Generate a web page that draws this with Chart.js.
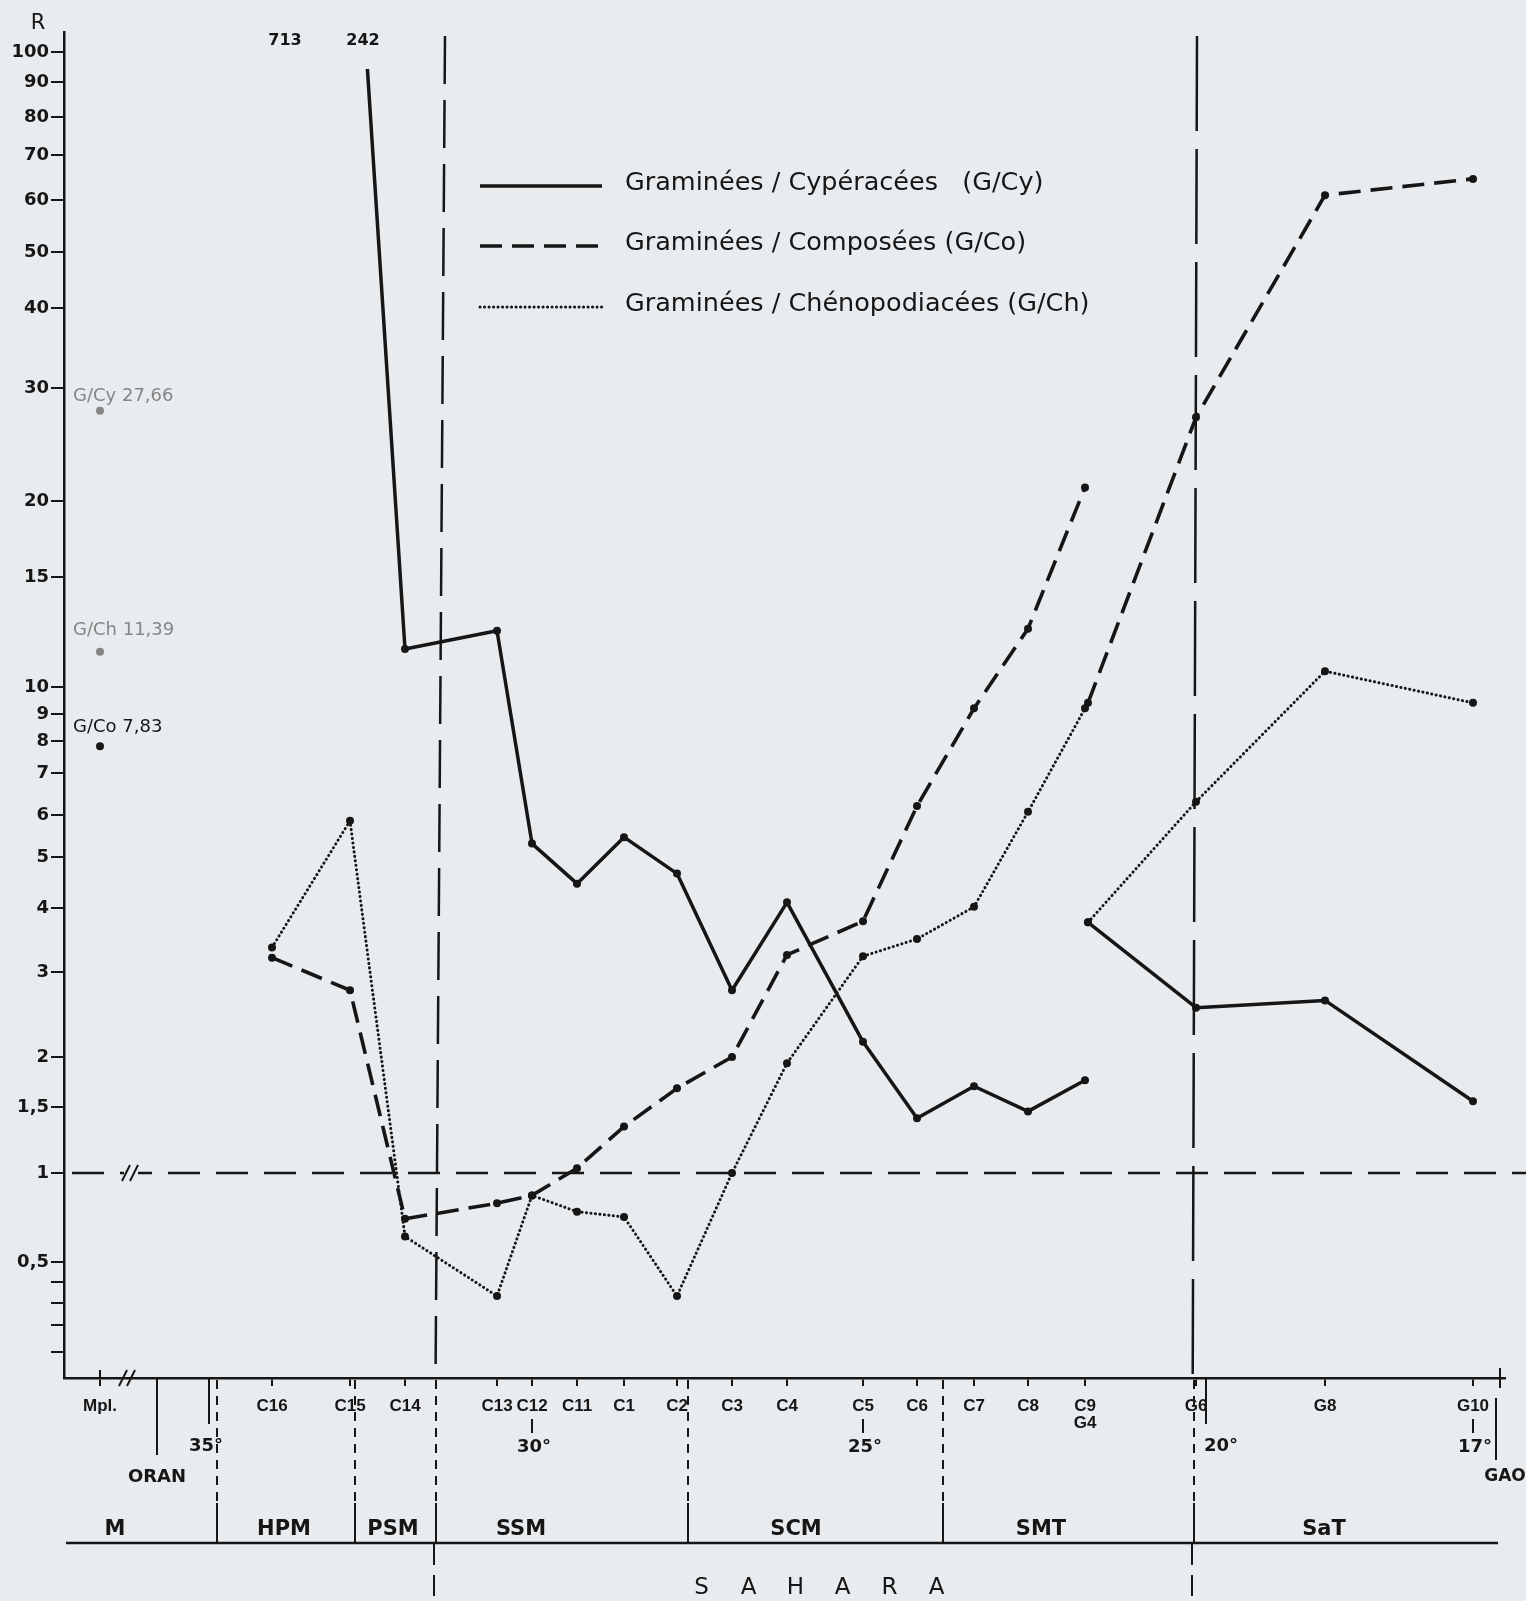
<!DOCTYPE html>
<html>
<head>
<meta charset="utf-8">
<title>Rapports polliniques - transect Sahara</title>
<script src="https://cdn.jsdelivr.net/npm/chart.js@4.4.1/dist/chart.umd.min.js"></script>
<style>
  html, body { margin: 0; padding: 0; background: #e9ecef; }
  canvas { display: block; }
</style>
</head>
<body>
<canvas id="grafico" width="1526" height="1601"></canvas>
<script>
const ink = '#161616';
const grey = '#858585';
const paper = '#e9ecef';
const FONT = '"DejaVu Sans", sans-serif';
const FONT_NARROW = '"Liberation Sans", Arial, sans-serif';

// stations along the transect, north -> south (C = Algeria, G = Mali)
const stations   = ['C16','C15','C14','C13','C12','C11','C1','C2','C3','C4','C5','C6','C7','C8','C9','G4','G6','G8','G10'];
const stationPos = [272, 350, 405, 497, 532, 577, 624, 677, 732, 787, 863, 917, 974, 1028, 1085, 1088, 1196, 1325, 1473];
const breakBefore = 'G4';   // the C and G series are not joined

// ratios R
const ratioGCy = [713, 242, 11.5, 12.3, 5.3, 4.45, 5.45, 4.65, 2.75, 4.1, 2.15, 1.4, 1.69, 1.46, 1.75, 3.75, 2.53, 2.62, 1.55];
const ratioGCo = [3.2, 2.75, 0.7, 0.79, 0.84, 1.03, 1.33, 1.67, 2.0, 3.24, 3.77, 6.2, 9.2, 12.4, 21, 9.4, 27, 61, 64.5];
const ratioGCh = [3.35, 5.85, 0.61, 0.33, 0.84, 0.74, 0.71, 0.33, 1.0, 1.93, 3.22, 3.48, 4.02, 6.07, 9.2, 3.75, 6.3, 10.6, 9.4];

// Montpellier reference values
const mplPos = 100;
const mplValues = [27.66, 11.39, 7.83];
const mplLabels = ['G/Cy 27,66', 'G/Ch 11,39', 'G/Co 7,83'];
const mplLabelDy = [-14, -21, -19];

const seriesNames = ['Graminées / Cypéracées   (G/Cy)', 'Graminées / Composées (G/Co)', 'Graminées / Chénopodiacées (G/Ch)'];

// y axis (hand drawn, not a true log scale)
const yTickValues = [100, 90, 80, 70, 60, 50, 40, 30, 20, 15, 10, 9, 8, 7, 6, 5, 4, 3, 2, 1.5, 1, 0.5, 0.4, 0.3, 0.2, 0.1];
const yTickLabels = ['100','90','80','70','60','50','40','30','20','15','10','9','8','7','6','5','4','3','2','1,5','1','0,5','','','',''];
const yKnotHeights = [1326, 1296, 1261, 1223, 1178, 1126, 1070, 990, 877, 801, 691, 664, 637, 605, 563, 521, 470, 406, 321, 271, 205, 116, 96, 75, 53, 26];
const yAxisLength = 1346;

// latitudes, vegetation zones
const latLabels = ['35°', '30°', '25°', '20°', '17°'];
const latPos    = [209, 532, 863, 1206, 1473];
const latLong   = [true, false, false, true, false];
const regions   = ['M', 'HPM', 'PSM', 'SSM', 'SCM', 'SMT', 'SaT'];
const regionMid = [115, 284, 393, 521, 796, 1041, 1324];
const regionBounds = [217, 355, 436, 688, 943, 1194];
const saharaTop    = [445, 1197];
const saharaBottom = [434, 1192];

function knotHeight(v) {
  const vals = yTickValues, hs = yKnotHeights, n = vals.length;
  if (v <= 0) return 0;
  let i = 0;
  if (v >= vals[0]) i = 0;
  else if (v <= vals[n - 1]) i = n - 2;
  else while (!(v <= vals[i] && v >= vals[i + 1])) i++;
  const t = Math.log(v / vals[i + 1]) / Math.log(vals[i] / vals[i + 1]);
  return hs[i + 1] + t * (hs[i] - hs[i + 1]);
}
function knotValue(h) {
  const vals = yTickValues, hs = yKnotHeights, n = vals.length;
  let i = 0;
  if (h >= hs[0]) i = 0;
  else if (h <= hs[n - 1]) i = n - 2;
  else while (!(h <= hs[i] && h >= hs[i + 1])) i++;
  const t = (h - hs[i + 1]) / (hs[i] - hs[i + 1]);
  return vals[i + 1] * Math.pow(vals[i] / vals[i + 1], t);
}

const Linear = Chart.LinearScale || Chart.registry.getScale('linear');
class KnotScale extends Linear {
  getPixelForValue(v) {
    if (v === null || v === undefined || isNaN(v)) return NaN;
    return this.bottom - knotHeight(v) / yAxisLength * (this.bottom - this.top);
  }
  getValueForPixel(p) {
    return knotValue((this.bottom - p) / (this.bottom - this.top) * yAxisLength);
  }
}
KnotScale.id = 'knot';
KnotScale.defaults = Linear.defaults;
Chart.register(KnotScale);

function points(values) {
  const pts = [];
  stations.forEach((s, i) => {
    if (s === breakBefore) pts.push({ x: stationPos[i], y: null });
    pts.push({ x: stationPos[i], y: values[i] });
  });
  return pts;
}

const axisTicks = [mplPos];
const axisTickText = ['Mpl.'];
stations.forEach((s, i) => {
  if (s === breakBefore) return;
  axisTicks.push(stationPos[i]);
  axisTickText.push(stations[i + 1] === breakBefore ? [s, breakBefore] : s);
});

const styleCy = { borderWidth: 3.5, borderDash: [], borderCapStyle: 'butt' };
const styleCo = { borderWidth: 3.6, borderDash: [22, 10], borderCapStyle: 'butt' };
const styleCh = { borderWidth: 3, borderDash: [0.1, 4.4], borderCapStyle: 'round' };

function seg(c, x1, y1, x2, y2, w, dash, color) {
  c.save();
  c.beginPath();
  c.lineWidth = w;
  c.strokeStyle = color || ink;
  c.setLineDash(dash || []);
  c.lineCap = (dash && dash[0] < 1) ? 'round' : 'butt';
  c.moveTo(x1, y1);
  c.lineTo(x2, y2);
  c.stroke();
  c.restore();
}
function txt(c, s, x, y, size, opts) {
  opts = opts || {};
  c.save();
  c.font = (opts.weight || 'normal') + ' ' + size + 'px ' + (opts.family || FONT);
  c.fillStyle = opts.color || ink;
  c.textAlign = opts.align || 'center';
  c.textBaseline = 'middle';
  c.fillText(s, x, y);
  c.restore();
}
function breakMark(c, x, y) {
  [-5, 3].forEach(dx => seg(c, x + dx - 4, y + 8, x + dx + 4, y - 8, 2));
}

const decor = {
  id: 'decor',
  beforeDraw(chart) {
    const c = chart.ctx;
    c.save();
    c.fillStyle = paper;
    c.fillRect(0, 0, chart.width, chart.height);
    c.restore();
  },
  beforeDatasetsDraw(chart) {
    const c = chart.ctx, x = chart.scales.x, y = chart.scales.y, a = chart.chartArea;
    // Sahara limits, slightly slanted like the scanned original
    saharaTop.forEach((t, i) => {
      const b = saharaBottom[i];
      const atAxis = t + (b - t) * (a.bottom - 36) / (1596 - 36);
      seg(c, x.getPixelForValue(t), 36, x.getPixelForValue(atAxis), a.bottom, 2.5, i ? [95, 18] : [48, 16]);
    });
    const y1 = y.getPixelForValue(1);
    seg(c, a.left + 8, y1, chart.width, y1, 2.5, [32, 16]);
    c.save();
    c.fillStyle = paper;
    c.fillRect(x.getPixelForValue(124), y1 - 3, 14, 6);
    c.restore();
    breakMark(c, x.getPixelForValue(131), y1);
  },
  afterDraw(chart) {
    const c = chart.ctx, x = chart.scales.x, a = chart.chartArea;
    const px = v => x.getPixelForValue(v);
    const base = a.bottom;
    const rule = 1543;

    // axis extras
    seg(c, px(mplPos), base - 8, px(mplPos), base, 2);
    breakMark(c, px(128), base);
    seg(c, px(157), base, px(157), 1455, 2);
    txt(c, 'ORAN', px(157), 1477, 18, { weight: 'bold' });
    latLabels.forEach((l, i) => {
      const p = px(latPos[i]);
      if (latLong[i]) {
        seg(c, p, base, p, 1424, 2);
        txt(c, l, i === 3 ? p + 15 : p - 3, 1446, 18, { weight: 'bold' });
      } else {
        seg(c, p, 1419, p, 1433, 2);
        txt(c, l, p + 2, 1447, 18, { weight: 'bold' });
      }
    });
    // GAO end of transect
    seg(c, px(1500), base - 10, px(1500), base + 10, 2);
    seg(c, px(1496), 1398, px(1496), 1460, 2);
    txt(c, 'GAO', px(1505), 1477, 17, { weight: 'bold' });

    // vegetation zones
    regionBounds.forEach(b => {
      const p = px(b);
      seg(c, p, base + 2, p, 1503, 2, [9, 7]);
      seg(c, p, 1503, p, rule, 2);
    });
    seg(c, 66, rule, 1498, rule, 2.5);
    regions.forEach((r, i) => txt(c, r, px(regionMid[i]), 1530, 21, { weight: 'bold' }));
    saharaBottom.forEach(b => seg(c, px(b), rule, px(b), 1596, 2, [22, 10]));
    const sahara = 'SAHARA'.split('');
    const mid = (px(saharaBottom[0]) + px(saharaBottom[1])) / 2 + 6;
    sahara.forEach((ch, i) => txt(c, ch, mid + (i - 2.5) * 47, 1588, 23));

    // top
    txt(c, 'R', 38, 24, 21);
    ratioGCy.forEach((v, i) => {
      if (v > yTickValues[0]) txt(c, String(v), px(stationPos[i]) + 13, 41, 16, { weight: 'bold' });
    });

    // legend
    const styles = [styleCy, styleCo, styleCh];
    const ly = [186, 246, 307];
    styles.forEach((s, i) => {
      seg(c, 480, ly[i], 602, ly[i], s.borderWidth, s.borderDash.length ? s.borderDash : null);
      txt(c, seriesNames[i], 625, ly[i] - 3, 25.5, { align: 'left' });
    });

    // Montpellier labels
    const meta = chart.getDatasetMeta(3);
    meta.data.forEach((pt, i) => {
      txt(c, mplLabels[i], pt.x - 27, pt.y + mplLabelDy[i], 18, { align: 'left', color: i < 2 ? grey : ink });
    });
  }
};

function lineSet(label, values, style, extra) {
  return Object.assign({
    label: label,
    data: points(values),
    borderColor: ink,
    pointRadius: 4,
    pointBackgroundColor: ink,
    pointBorderWidth: 0,
    borderJoinStyle: 'round',
    tension: 0,
    spanGaps: false
  }, style, extra || {});
}

new Chart(document.getElementById('grafico'), {
  type: 'line',
  data: {
    datasets: [
      lineSet(seriesNames[0], ratioGCy, styleCy, { clip: { left: 0, top: -37, right: 0, bottom: 0 } }),
      lineSet(seriesNames[1], ratioGCo, styleCo),
      lineSet(seriesNames[2], ratioGCh, styleCh),
      {
        label: 'Montpellier',
        data: mplValues.map(v => ({ x: mplPos, y: v })),
        showLine: false,
        pointRadius: 4,
        pointBackgroundColor: [grey, grey, ink],
        pointBorderWidth: 0
      }
    ]
  },
  options: {
    responsive: false,
    animation: false,
    devicePixelRatio: 1,
    layout: { padding: { top: 32, right: 21, left: 0, bottom: 0 } },
    plugins: { legend: { display: false }, tooltip: { enabled: false } },
    scales: {
      x: {
        type: 'linear',
        min: 64,
        max: 1505,
        afterBuildTicks: s => { s.ticks = axisTicks.map(v => ({ value: v })); },
        afterFit: s => { s.height = 223; },
        grid: { drawOnChartArea: false, tickLength: 8, color: ink, lineWidth: 2 },
        border: { color: ink, width: 2.5 },
        ticks: {
          autoSkip: false,
          maxRotation: 0,
          padding: 11,
          color: ink,
          font: { family: FONT_NARROW, size: 17, weight: 'bold', lineHeight: 1.05 },
          callback: (v, i) => axisTickText[i]
        }
      },
      y: {
        type: 'knot',
        min: 0.1,
        max: 100,
        afterBuildTicks: s => { s.ticks = yTickValues.map(v => ({ value: v })); },
        afterFit: s => { s.width = 64; },
        grid: { drawOnChartArea: false, tickLength: 13, color: ink, lineWidth: 2 },
        border: { color: ink, width: 2.5 },
        ticks: {
          padding: 2,
          color: ink,
          font: { family: FONT, size: 18, weight: 'bold' },
          callback: (v, i) => yTickLabels[i]
        }
      }
    }
  },
  plugins: [decor]
});
</script>
</body>
</html>
